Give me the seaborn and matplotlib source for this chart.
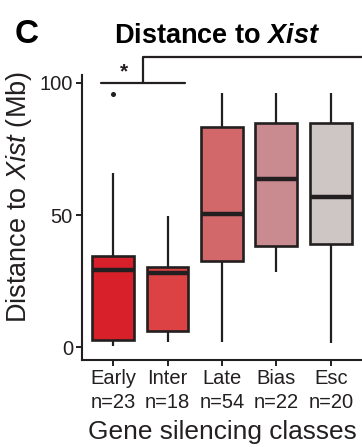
import numpy as np
import pandas as pd
import matplotlib
matplotlib.use("Agg")
import matplotlib.pyplot as plt
import seaborn as sns

# ---- data ----
classes = ["Early", "Inter", "Late", "Bias", "Esc"]
counts = [23, 18, 54, 22, 20]
whisk_lo = [0.4, 2.0, 1.9, 28.5, 1.4]
q1 = [2.7, 6.2, 32.7, 38.1, 39.2]
median = [29.3, 28.0, 50.4, 63.5, 56.9]
q3 = [34.3, 30.5, 83.5, 85.0, 84.7]
whisk_hi = [66.0, 49.8, 96.0, 96.0, 96.0]
outliers = [[95.8], [], [], [], []]
colors = ["#d7202a", "#dc4244", "#d3686a", "#c98a90", "#cdc6c5"]
yticks = [0, 50, 100]

# long-form table reproducing the five-number summaries
rows = []
for c, lo, a, m, b, hi, out in zip(classes, whisk_lo, q1, median, q3, whisk_hi, outliers):
    for v in [lo, a, a, m, m, b, b, hi] + list(out):
        rows.append((c, v))
df = pd.DataFrame(rows, columns=["cls", "val"])

sns.set_style("ticks")
plt.rcParams["font.family"] = ["Liberation Sans", "DejaVu Sans"]
plt.rcParams["mathtext.fontset"] = "custom"
plt.rcParams["mathtext.rm"] = "Liberation Sans"
plt.rcParams["mathtext.it"] = "Liberation Sans:italic"
plt.rcParams["mathtext.bfit"] = "Liberation Sans:bold:italic"

dark = "#231f20"
fig = plt.figure(figsize=(3.62, 4.47), dpi=100)
ax = fig.add_axes([0.2265, 0.1946, 0.7735, 0.6376])

sns.boxplot(data=df, x="cls", y="val", hue="cls", order=classes, hue_order=classes,
            palette=colors, legend=False, width=0.77, whis=1.5, showcaps=False,
            linewidth=1.9, linecolor=dark, saturation=1,
            medianprops=dict(linewidth=3.2, color=dark),
            whiskerprops=dict(linewidth=1.6, color=dark),
            flierprops=dict(marker="o", markersize=2.6, markerfacecolor=dark,
                            markeredgecolor=dark),
            ax=ax)

ax.set_xlim(-0.57, 4.57)
ax.set_ylim(-4.9, 103)
ax.set_yticks(yticks)
ax.set_yticklabels([str(t) for t in yticks], fontsize=14.5, color="#231f20")
ax.set_xticks(range(len(classes)))
ax.set_xticklabels([f"{c}\nn={n}" for c, n in zip(classes, counts)], fontsize=14.5,
                   color="#231f20", linespacing=1.3)
ax.tick_params(axis="both", length=4.5, width=1.4, color=dark, pad=2)
for s in ["left", "bottom"]:
    ax.spines[s].set_linewidth(1.5)
    ax.spines[s].set_color(dark)
sns.despine(ax=ax, top=True, right=True)

ax.set_xlabel("Gene silencing classes", fontsize=18.9, color="#231f20", labelpad=6)
ax.set_ylabel(r"Distance to $\mathit{Xist}$ (Mb)", fontsize=19.5, color="#231f20")
ax.yaxis.set_label_coords(-0.172, 0.572)

# significance brackets
ax.plot([-0.22, 1.32], [100, 100], color=dark, lw=1.6, clip_on=False)
ax.plot([0.55, 0.55, 4.7], [100, 110, 110], color=dark, lw=1.6, clip_on=False)
ax.text(0.2, 100.5, "*", ha="center", va="bottom", fontsize=15, fontweight="bold",
        color=dark, clip_on=False)

fig.text(0.6, 0.948, r"Distance to $\mathbfit{Xist}$", ha="center", va="top",
         fontsize=19.5, fontweight="bold", color="black")
fig.text(0.04, 0.958, "C", ha="left", va="top", fontsize=24, fontweight="bold",
         color="black")

fig.savefig("out.png", dpi=100)
